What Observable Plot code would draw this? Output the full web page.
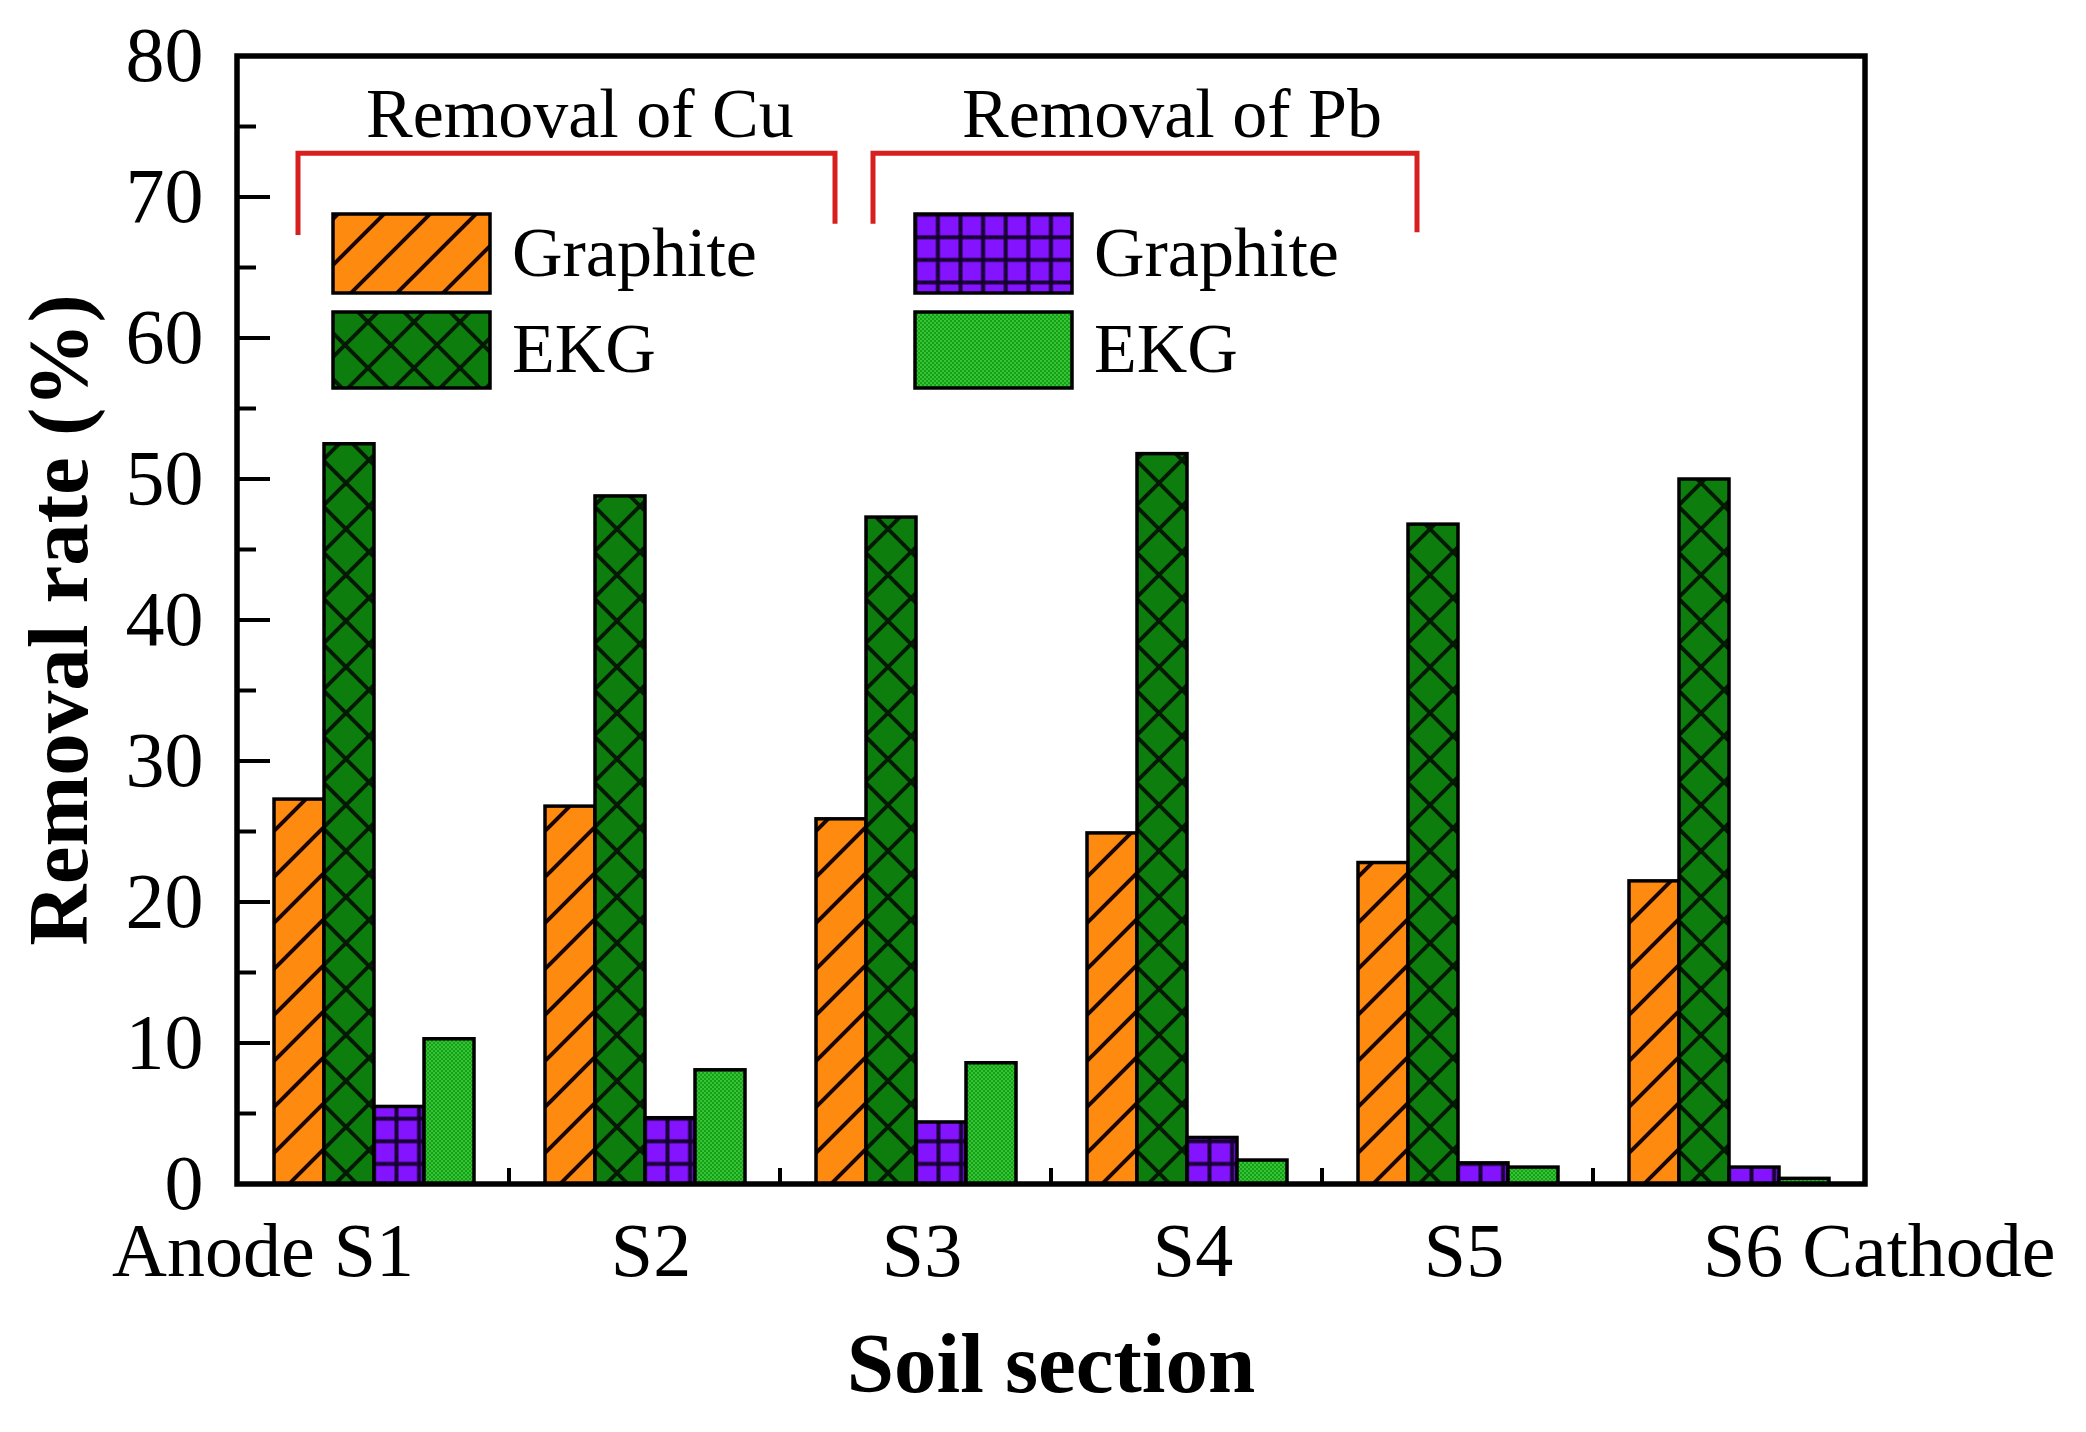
<!DOCTYPE html>
<html><head><meta charset="utf-8">
<script src="https://cdn.jsdelivr.net/npm/d3@7"></script>
<script src="https://cdn.jsdelivr.net/npm/@observablehq/plot@0.6"></script>
<style>html,body{margin:0;padding:0;background:#fff;} svg{display:block}</style>
</head><body><div id="chart"></div>
<script>
// ---- data ----
const sections = ["S1", "S2", "S3", "S4", "S5", "S6"];
const seriesKeys = ["Cu-Graphite", "Cu-EKG", "Pb-Graphite", "Pb-EKG"];
const cuGraphite = [27.3, 26.8, 25.9, 24.9, 22.8, 21.5];
const cuEKG = [52.5, 48.8, 47.3, 51.8, 46.8, 50.0];
const pbGraphite = [5.5, 4.7, 4.4, 3.3, 1.5, 1.2];
const pbEKG = [10.3, 8.1, 8.6, 1.7, 1.2, 0.4];
const yTicks = [0, 10, 20, 30, 40, 50, 60, 70, 80];
const yMinorTicks = [5, 15, 25, 35, 45, 55, 65, 75];
const legendLabels = ["Graphite", "EKG", "Graphite", "EKG"];
const groupTitles = ["Removal of Cu", "Removal of Pb"];
const endLabels = ["Anode S1", "S6 Cathode"];
const yTitle = "Removal rate (%)";
const xTitle = "Soil section";

const seriesValues = [cuGraphite, cuEKG, pbGraphite, pbEKG];
const rows = sections.flatMap((s, i) => seriesKeys.map((k, j) => ({section: s, series: k, value: seriesValues[j][i]})));
const fills = ["url(#p-cug)", "url(#p-cue)", "url(#p-pbg)", "url(#p-pbe)"];

const W = 2086, H = 1432;
const serif = "'Liberation Serif', 'Times New Roman', serif";

const plot = Plot.plot({
  width: W, height: H,
  marginLeft: 237, marginRight: 221, marginTop: 56, marginBottom: 248,
  style: {fontFamily: serif, fontSize: "78px", color: "black", background: "white", overflow: "visible"},
  fx: {domain: sections, padding: 0},
  x: {domain: seriesKeys, paddingInner: 0, paddingOuter: 0.66, axis: null},
  y: {domain: [0, 80]},
  color: {type: "ordinal", domain: seriesKeys, range: fills},
  marks: [
    Plot.barY(rows, {fx: "section", x: "series", y: "value", fill: "series", stroke: "black", strokeWidth: 3.5}),
    Plot.axisY(yTicks, {tickSize: 0, tickPadding: 35, fontSize: 78, label: null}),
    Plot.axisFx({anchor: "bottom", tickSize: 0, tickPadding: 38, fontSize: 76, label: null, dx: 6,
      tickFormat: s => (s === sections[0] || s === sections[sections.length - 1]) ? "" : s}),
    Plot.text([{section: "S1", t: endLabels[0]}], {fx: "section", text: "t", frameAnchor: "bottom", textAnchor: "end", lineAnchor: "top", dy: 38, dx: 40, fontSize: 76}),
    Plot.text([{section: "S6", t: endLabels[1]}], {fx: "section", text: "t", frameAnchor: "bottom", textAnchor: "start", lineAnchor: "top", dy: 38, dx: -26, fontSize: 76})
  ]
});
document.getElementById("chart").appendChild(plot);

// ---- patterns ----
const svg = d3.select(plot);
const defs = svg.insert("defs", ":first-child");
function pattern(id, size) {
  return defs.append("pattern").attr("id", id).attr("patternUnits", "userSpaceOnUse")
    .attr("width", size).attr("height", size);
}
{
  const s = 46;
  const p = pattern("p-cug", s);
  p.append("rect").attr("width", s).attr("height", s).attr("fill", "#ff8a10");
  p.append("path").attr("d", `M${-s/4},${s/4}L${s/4},${-s/4}M0,${s}L${s},0M${3*s/4},${5*s/4}L${5*s/4},${3*s/4}`)
    .attr("stroke", "#1a0500").attr("stroke-width", 4);
}
{
  const s = 46;
  const p = pattern("p-cue", s);
  p.append("rect").attr("width", s).attr("height", s).attr("fill", "#0d7d0d");
  p.append("path").attr("d", `M0,0L${s},${s}M${s},0L0,${s}`).attr("stroke", "#021a02").attr("stroke-width", 4);
}
{
  const s = 22.6;
  const p = pattern("p-pbg", s);
  p.append("rect").attr("width", s).attr("height", s).attr("fill", "#8414ff");
  p.append("path").attr("d", `M${s/2},0V${s}M0,${s/2}H${s}`).attr("stroke", "#180035").attr("stroke-width", 4);
}
{
  const s = 4;
  const p = pattern("p-pbe", s);
  p.append("rect").attr("width", s).attr("height", s).attr("fill", "#179f17");
  p.append("rect").attr("width", 2).attr("height", 2).attr("fill", "#35c435");
  p.append("rect").attr("x", 2).attr("y", 2).attr("width", 2).attr("height", 2).attr("fill", "#35c435");
}

// ---- frame, ticks, titles, annotations (from the plot's scales) ----
const fx = plot.scale("fx"), y = plot.scale("y");
const xL = fx.range[0], xR = fx.range[1];
const yT = y.apply(80), yB = y.apply(0);
const g = svg.append("g").attr("text-anchor", "start");

// inward y ticks
yTicks.forEach(v => g.append("line").attr("x1", xL).attr("x2", xL + 33).attr("y1", y.apply(v)).attr("y2", y.apply(v))
  .attr("stroke", "black").attr("stroke-width", 4));
yMinorTicks.forEach(v => g.append("line").attr("x1", xL).attr("x2", xL + 19).attr("y1", y.apply(v)).attr("y2", y.apply(v))
  .attr("stroke", "black").attr("stroke-width", 4));
// bottom minor ticks between sections
sections.slice(1).forEach(s => {
  const xp = fx.apply(s);
  g.append("line").attr("x1", xp).attr("x2", xp).attr("y1", yB).attr("y2", yB - 16).attr("stroke", "black").attr("stroke-width", 4);
});
// frame
g.append("rect").attr("x", xL).attr("y", yT).attr("width", xR - xL).attr("height", yB - yT)
  .attr("fill", "none").attr("stroke", "black").attr("stroke-width", 5.5);

// axis titles
g.append("text").attr("transform", `translate(87,${(yT + yB) / 2}) rotate(-90)`).attr("text-anchor", "middle")
  .attr("font-family", serif).attr("font-weight", "bold").attr("font-size", 85).text(yTitle);
g.append("text").attr("x", (xL + xR) / 2).attr("y", 1392).attr("text-anchor", "middle")
  .attr("font-family", serif).attr("font-weight", "bold").attr("font-size", 85).text(xTitle);

// red brackets + group titles
const red = "#d71f1f";
const brackets = [
  {x1: xL + 61, x2: xL + 598, yl: y.apply(67.3), yr: y.apply(68.1), tx: xL + 129},
  {x1: xL + 636, x2: xL + 1180, yl: y.apply(68.1), yr: y.apply(67.5), tx: xL + 725}
];
const yBr = y.apply(73.1);
brackets.forEach((b, i) => {
  g.append("path").attr("d", `M${b.x1},${b.yl}V${yBr}H${b.x2}V${b.yr}`).attr("fill", "none")
    .attr("stroke", red).attr("stroke-width", 5);
  g.append("text").attr("x", b.tx).attr("y", 137).attr("text-anchor", "start").attr("font-family", serif)
    .attr("font-size", 70).text(groupTitles[i]);
});

// legend
const legCols = [xL + 96, xL + 678];
const legRows = [{top: 214, h: 79}, {top: 312, h: 76}];
seriesKeys.forEach((k, i) => {
  const col = legCols[Math.floor(i / 2)], row = legRows[i % 2];
  g.append("rect").attr("x", col).attr("y", row.top).attr("width", 157).attr("height", row.h)
    .attr("fill", fills[i]).attr("stroke", "black").attr("stroke-width", 3.5);
  g.append("text").attr("x", col + 179).attr("y", row.top + row.h / 2 + 22).attr("text-anchor", "start")
    .attr("font-family", serif).attr("font-size", 70).text(legendLabels[i]);
});
</script>
</body></html>
